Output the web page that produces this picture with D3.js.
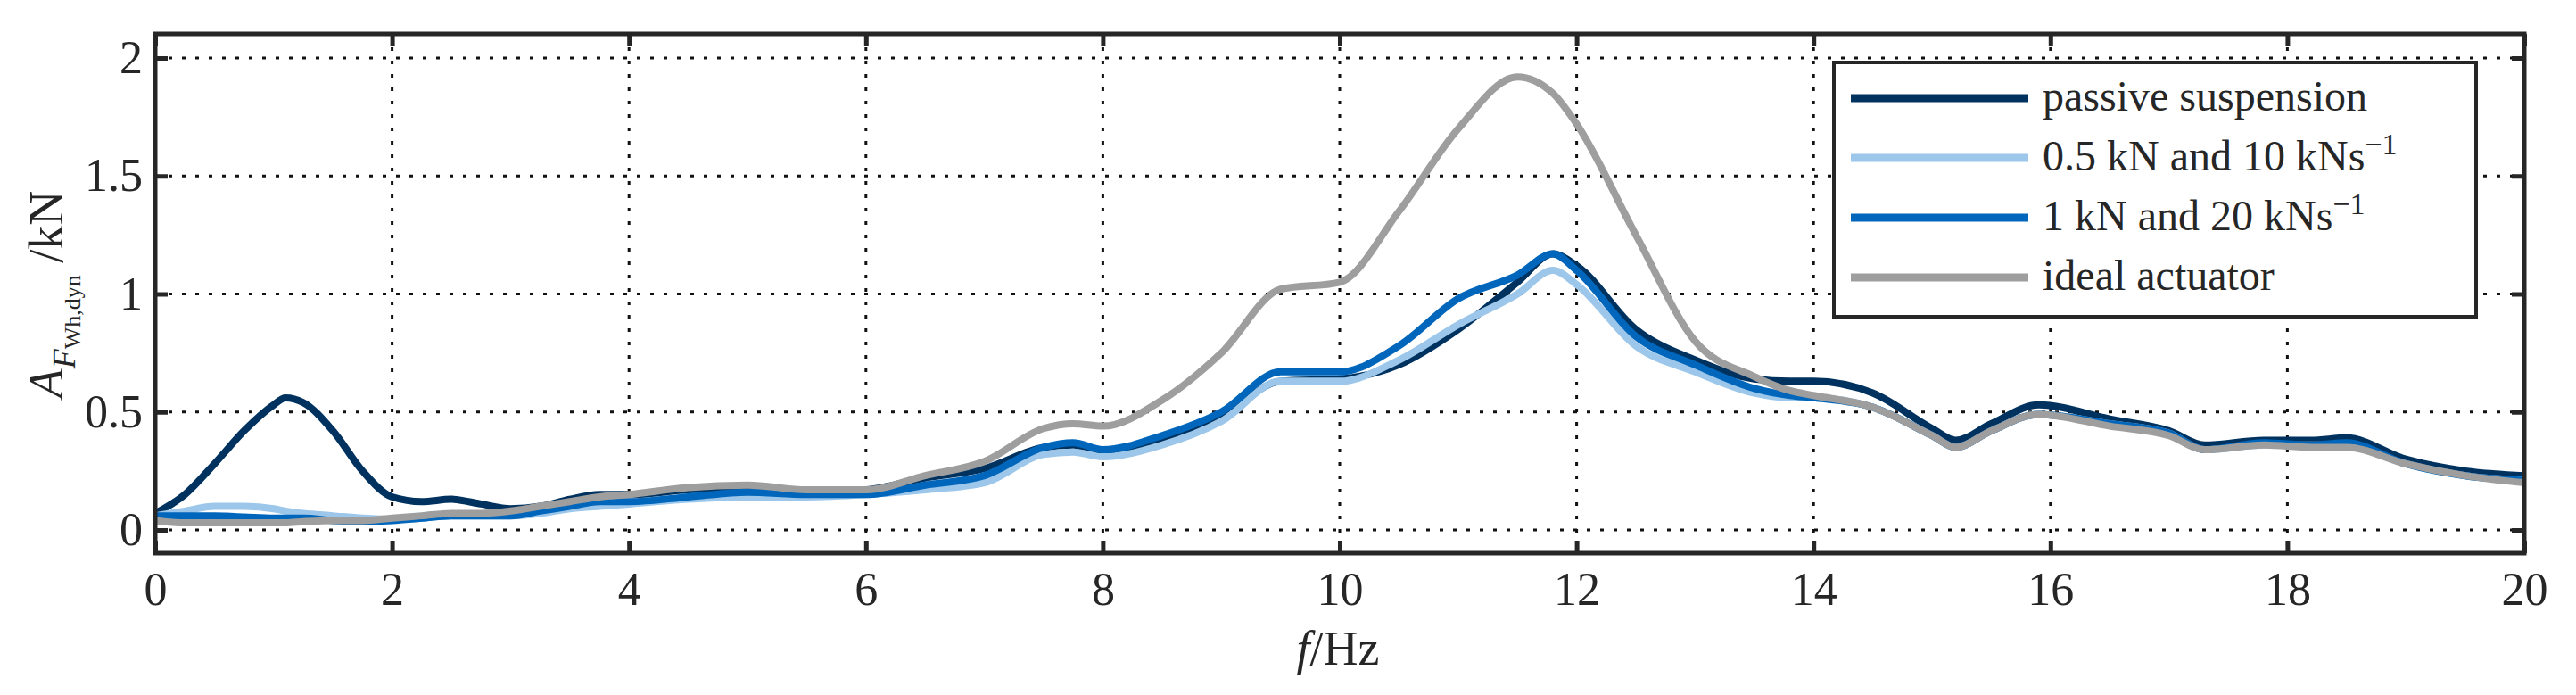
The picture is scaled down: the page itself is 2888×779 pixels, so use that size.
<!DOCTYPE html>
<html><head><meta charset="utf-8">
<script src="https://cdn.jsdelivr.net/npm/d3@7"></script>
<style>body{margin:0;background:#fff}text{font-family:"Liberation Serif","DejaVu Serif",serif;fill:#262626}</style>
</head><body><svg id="chart" width="2888" height="779"></svg>
<script>
const freq = [0,0.25,0.5,0.75,1,1.1,1.25,1.5,1.75,2,2.25,2.5,2.75,3,3.25,3.5,3.75,4,4.5,5,5.5,6,6.5,7,7.5,7.75,8,8.5,9,9.5,10,10.5,11,11.5,11.8,12,12.5,13,13.5,13.8,14,14.5,15,15.2,15.5,15.9,16.5,17,17.3,17.8,18.2,18.5,19,19.5,20];
const passive = [0.07,0.15,0.28,0.42,0.53,0.56,0.54,0.42,0.25,0.14,0.12,0.13,0.11,0.09,0.10,0.13,0.15,0.15,0.17,0.18,0.16,0.17,0.22,0.26,0.35,0.36,0.33,0.38,0.48,0.63,0.64,0.70,0.85,1.05,1.17,1.12,0.85,0.72,0.64,0.63,0.63,0.58,0.43,0.38,0.45,0.53,0.47,0.42,0.36,0.38,0.38,0.39,0.30,0.25,0.23];
const light = [0.06,0.08,0.10,0.10,0.09,0.08,0.07,0.06,0.05,0.045,0.05,0.06,0.06,0.06,0.07,0.09,0.10,0.11,0.13,0.14,0.14,0.15,0.17,0.20,0.32,0.33,0.31,0.36,0.46,0.63,0.63,0.72,0.87,1.00,1.10,1.04,0.78,0.67,0.58,0.56,0.56,0.52,0.40,0.35,0.42,0.49,0.45,0.41,0.34,0.36,0.36,0.36,0.28,0.23,0.21];
const medium = [0.06,0.06,0.06,0.055,0.05,0.05,0.05,0.04,0.035,0.04,0.05,0.06,0.06,0.06,0.08,0.10,0.12,0.12,0.14,0.16,0.15,0.15,0.19,0.23,0.35,0.37,0.34,0.40,0.50,0.67,0.67,0.78,0.98,1.08,1.17,1.10,0.82,0.70,0.60,0.57,0.56,0.52,0.40,0.35,0.42,0.49,0.45,0.41,0.34,0.37,0.36,0.37,0.28,0.23,0.21];
const ideal = [0.04,0.03,0.03,0.03,0.03,0.03,0.035,0.04,0.04,0.05,0.06,0.07,0.07,0.08,0.10,0.12,0.14,0.15,0.18,0.19,0.17,0.17,0.23,0.29,0.43,0.45,0.44,0.55,0.75,1.02,1.05,1.35,1.70,1.92,1.85,1.72,1.25,0.80,0.65,0.59,0.57,0.52,0.40,0.35,0.42,0.49,0.44,0.40,0.34,0.36,0.35,0.35,0.28,0.23,0.20];
const xTicks = [0,2,4,6,8,10,12,14,16,18,20];
const yTicks = [0,0.5,1,1.5,2];

const series = [
  {name:"passive suspension", vals:passive, color:"#00325f"},
  {name:"0.5", vals:light, color:"#9cc7ea"},
  {name:"1", vals:medium, color:"#0066bb"},
  {name:"ideal actuator", vals:ideal, color:"#9e9e9e"}
];

const L = 174, R = 2830, T = 38, B = 620;
const x = d3.scaleLinear().domain([0,20]).range([L,R]);
const y = d3.scaleLinear().domain([0,2]).range([594,65]);
const svg = d3.select("#chart");

// grid
svg.append("g").selectAll("line").data(xTicks.slice(1,-1)).join("line")
  .attr("x1",d=>x(d)).attr("x2",d=>x(d)).attr("y1",T).attr("y2",B)
  .attr("stroke","#111").attr("stroke-width",3).attr("stroke-dasharray","4,11");
svg.append("g").selectAll("line").data(yTicks).join("line")
  .attr("x1",L).attr("x2",R).attr("y1",d=>y(d)).attr("y2",d=>y(d))
  .attr("stroke","#111").attr("stroke-width",3).attr("stroke-dasharray","4,11");

// lines
const line = d3.line().x((d,i)=>x(freq[i])).y(d=>y(d)).curve(d3.curveMonotoneX);
series.forEach(s => {
  svg.append("path").datum(s.vals).attr("d",line).attr("fill","none")
    .attr("stroke",s.color).attr("stroke-width",8).attr("stroke-linejoin","round");
});

// axes box and ticks
svg.append("rect").attr("x",L).attr("y",T).attr("width",R-L).attr("height",B-T)
  .attr("fill","none").attr("stroke","#262626").attr("stroke-width",5);
const xAxis = d3.axisBottom(x).tickValues(xTicks).tickSize(-14).tickPadding(40).tickFormat(d3.format("d"));
const gx = svg.append("g").attr("transform",`translate(0,${B})`).call(xAxis);
const gxt = svg.append("g").attr("transform",`translate(0,${T})`).call(d3.axisTop(x).tickValues(xTicks).tickSize(-14).tickFormat(""));
const gy = svg.append("g").attr("transform",`translate(${L},0)`).call(d3.axisLeft(y).tickValues(yTicks).tickSize(-14).tickPadding(14).tickFormat(d=>d));
const gyr = svg.append("g").attr("transform",`translate(${R},0)`).call(d3.axisRight(y).tickValues(yTicks).tickSize(-14).tickFormat(""));
[gx,gxt,gy,gyr].forEach(g=>{
  g.select(".domain").remove();
  g.selectAll(".tick line").attr("stroke","#262626").attr("stroke-width",5);
  g.selectAll("text").attr("font-size",52).attr("fill","#262626").style("font-family","'Liberation Serif',serif");
});
gx.selectAll("text").attr("dy","0.35em");

// axis labels
svg.append("text").attr("x",1500).attr("y",745).attr("text-anchor","middle").attr("font-size",54)
  .html('<tspan font-style="italic">f</tspan>/Hz');
svg.append("text").attr("transform","translate(70,330) rotate(-90)").attr("text-anchor","middle").attr("font-size",54)
  .html('<tspan font-style="italic">A</tspan><tspan font-size="36" dy="14" font-style="italic">F</tspan><tspan font-size="26" dy="6">Wh,dyn</tspan><tspan dy="-20"> /kN</tspan>');

// legend
const lg = svg.append("g");
lg.append("rect").attr("x",2056).attr("y",70).attr("width",720).attr("height",285)
  .attr("fill","#fff").attr("stroke","#262626").attr("stroke-width",4);
const labels = [
  'passive suspension',
  '0.5 kN and 10 kNs<tspan dy="-18" font-size="34">−1</tspan>',
  '1 kN and 20 kNs<tspan dy="-18" font-size="34">−1</tspan>',
  'ideal actuator'
];
series.forEach((s,i)=>{
  const yy = 110 + i*67;
  lg.append("line").attr("x1",2075).attr("x2",2274).attr("y1",yy).attr("y2",yy)
    .attr("stroke",s.color).attr("stroke-width",9);
  lg.append("text").attr("x",2290).attr("y",yy+14).attr("font-size",48).html(labels[i]);
});
</script></body></html>
